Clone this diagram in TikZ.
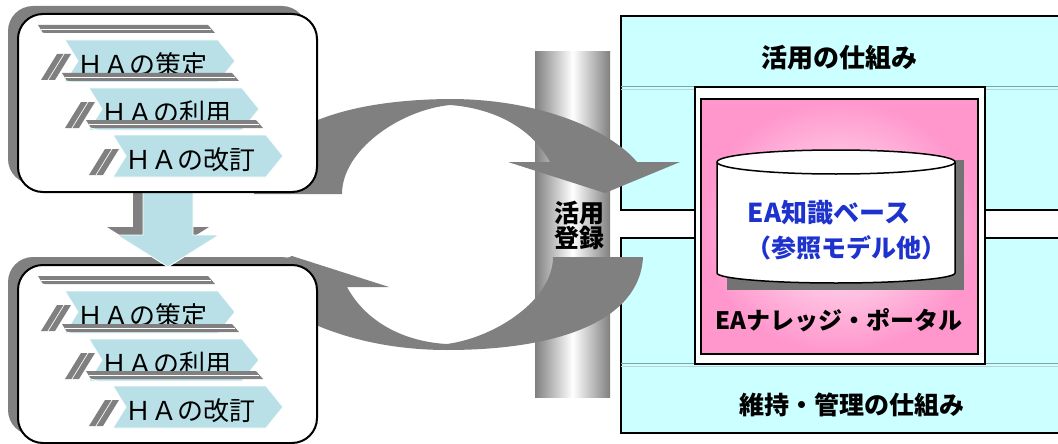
\documentclass[tikz,border=0pt]{standalone}
\usepackage{fontspec}
\newfontfamily\jp{Noto Sans CJK JP}
\definecolor{chev}{RGB}{184,224,230}
\definecolor{cyanbg}{RGB}{204,255,255}
\definecolor{pinkbg}{RGB}{255,150,204}
\definecolor{eablue}{RGB}{30,50,205}
\definecolor{sepline}{RGB}{120,165,165}
\definecolor{agray}{RGB}{128,128,128}
\newcommand\hachev[4]{%
\begin{scope}[shift={(#1,#2)}]
\fill[agray] (-27,-15) -- (143,-15) -- (150,-7) -- (-22,-7) -- cycle;
\draw[white, line width=0.7pt] (-24,-11) -- (146,-11);
\draw[white, line width=0.7pt] (-22,-7) -- (0,0);
\filldraw[fill=chev, draw=white, line width=0.8pt] (0,0) -- (153,0) -- (170,21) -- (153,42) -- (0,42) -- (13,21) -- cycle;
\fill[agray] (-24,40) -- (-10,40) -- (6,14) -- (-8,14) -- cycle;
\draw[white, line width=0.7pt] (-17,40) -- (-1,14);
\node[chevtxt, anchor=west] (#3) at (12,25) {#4};
\end{scope}}
\begin{document}
\begin{tikzpicture}[x=1pt, y=-1pt,
  chevtxt/.style={font=\jp\fontsize{26pt}{28pt}\selectfont, inner sep=0pt, text=black},
  boldtxt/.style={font=\jp\bfseries\fontsize{26pt}{28pt}\selectfont, inner sep=0pt, text=black},
  bluetxt/.style={font=\jp\bfseries\fontsize{25pt}{27pt}\selectfont, inner sep=0pt, text=eablue},
  hbox/.style={draw=black, fill=white, line width=2pt, rounded corners=25pt, minimum width=299pt, minimum height=178pt, inner sep=0pt},
  frame/.style={draw=black, fill=cyanbg, line width=2.5pt},
  gshadow/.style={fill=agray, rounded corners=25pt},
  darrow/.style={fill=chev, draw=white, line width=0.8pt}
]
\useasboundingbox (0,0) rectangle (1058,444);
\clip (0,0) rectangle (1058,444);

% right structure
\path[frame] (621,16) rectangle (1075,210);
\path[frame] (621,238) rectangle (1075,433);
\draw[sepline, line width=0.8pt] (621,86) -- (1075,86);
\draw[sepline!50, line width=0.8pt] (621,89) -- (1075,89);
\draw[sepline, line width=0.8pt] (621,363) -- (1075,363);
\draw[sepline!50, line width=0.8pt] (621,366) -- (1075,366);
\draw[fill=white, line width=2pt] (695,87) rectangle (985,364);
\shadedraw[draw=black, line width=2.5pt, inner color=pinkbg!12, outer color=pinkbg] (701,99) rectangle (978,354);

% cylinder
\fill[black!55] (727,160) rectangle (964,290);
\draw[fill=white, line width=1.5pt] (717,162) -- (717,273) arc[start angle=180, end angle=360, x radius=119pt, y radius=10pt] -- (955,162) arc[start angle=0, end angle=180, x radius=119pt, y radius=12pt] -- cycle;
\draw[line width=1.5pt] (955,162) arc[start angle=0, end angle=-180, x radius=119pt, y radius=12pt];
\node[bluetxt, font=\jp\bfseries\fontsize{26pt}{28pt}\selectfont] (kb) at (829,213) {EA知識ベース};
\node[bluetxt] (ref) at (846,248) {（参照モデル他）};
\node[boldtxt, font=\jp\bfseries\fontsize{24pt}{26pt}\selectfont] (portal) at (839,320) {EAナレッジ・ポータル};
\node[boldtxt] (use) at (839,58) {活用の仕組み};
\node[boldtxt, font=\jp\bfseries\fontsize{25pt}{27pt}\selectfont] (maint) at (852,405) {維持・管理の仕組み};

% pillar
\shade[left color=agray, right color=agray, middle color=white] (535,52) rectangle (610,397);

% circular arrows
\fill[agray] (254,194) .. controls (254,140) and (320,100) .. (450,99)
  .. controls (540,99) and (610,130) .. (637,162) -- (680,162) -- (605,193) -- (508,162) -- (550,162)
  .. controls (530,125) and (490,108) .. (450,105)
  .. controls (400,110) and (342,150) .. (342,194) -- cycle;
\fill[agray] (553,257) -- (643,257) .. controls (640,320) and (560,350) .. (447,350)
  .. controls (357,350) and (287,319) .. (260,287) -- (217,287) -- (292,256) -- (389,287) -- (347,287)
  .. controls (367,324) and (407,342) .. (447,344)
  .. controls (497,337) and (553,299) .. (553,257) -- cycle;
\node[boldtxt, font=\jp\bfseries\fontsize{25pt}{25pt}\selectfont, align=center] (reg) at (579,225) {活用\\登録};

% lower box
\fill[gshadow] (8,257) rectangle (307,435);
\node[hbox] (box2) at (167.5,354) {};
\hachev{65}{291}{b1}{ＨＡの策定}
\hachev{89}{339}{b2}{ＨＡの利用}
\hachev{113}{386}{b3}{ＨＡの改訂}

% down arrow
\fill[agray] (133,177) -- (183,177) -- (183,227) -- (209,227) -- (158,259) -- (107,227) -- (133,227) -- cycle;
\path[darrow] (143,185) -- (193,185) -- (193,235) -- (219,235) -- (168,267) -- (117,235) -- (143,235) -- cycle;

% upper box
\fill[gshadow] (8,6) rectangle (307,184);
\node[hbox] (box1) at (167.5,103) {};
\hachev{65}{40}{a1}{ＨＡの策定}
\hachev{89}{88}{a2}{ＨＡの利用}
\hachev{113}{135}{a3}{ＨＡの改訂}
\end{tikzpicture}
\end{document}
